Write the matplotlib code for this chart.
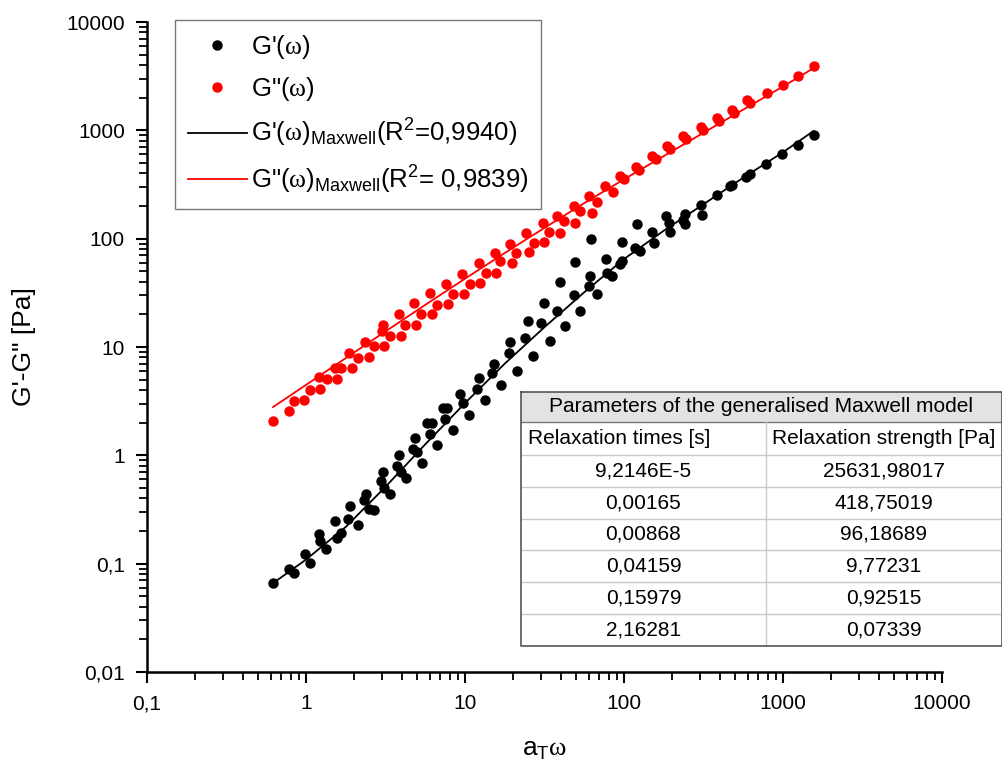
import matplotlib
matplotlib.use('Agg')
import matplotlib.pyplot as plt
from matplotlib.ticker import LogLocator, NullFormatter

# ═══ Fonts ════════════════════════════════════════════════════════════════
plt.rcParams['font.family'] = ['Liberation Sans', 'DejaVu Sans']
plt.rcParams['mathtext.fontset'] = 'custom'
plt.rcParams['mathtext.rm'] = 'Liberation Sans'
plt.rcParams['mathtext.it'] = 'Liberation Sans:italic'
plt.rcParams['mathtext.sf'] = 'Liberation Serif'

# ═══ Data ═════════════════════════════════════════════════════════════════

# G'(w) measured points
gp_x = [0.617, 0.785, 0.840, 0.98, 1.064, 1.202, 1.230, 1.336, 1.53, 1.56,
        1.668, 1.892, 1.846, 2.125, 2.39, 2.33, 2.50, 2.69, 3.07, 2.95,
        3.11, 3.38, 3.85, 3.72, 3.95, 4.25, 4.86, 4.74, 4.98, 5.35,
        5.75, 6.19, 6.04, 6.71, 7.32, 7.76, 7.50, 8.39, 9.33, 9.70,
        10.67, 12.17, 11.89, 13.40, 15.11, 14.77, 16.83, 19.27, 18.79, 21.23,
        24.89, 23.93, 26.77, 31.2, 30.05, 34.04, 39.4, 37.9, 42.7, 49.4,
        48.2, 53.1, 62.3, 60.8, 59.9, 67.7, 77.5, 78.3, 84.2, 97.3,
        97.3, 94.9, 120.9, 118, 126.8, 150.3, 153.8, 184.9, 191.3, 196,
        243.6, 243.6, 236.6, 309.5, 302.9, 385.6, 474.6, 461, 581, 616,
        777, 986, 1245, 1559]
gp_y = [0.0668, 0.0886, 0.0813, 0.1227, 0.1007, 0.189, 0.163, 0.1376, 0.246, 0.1738,
        0.193, 0.340, 0.2604, 0.227, 0.436, 0.384, 0.322, 0.3125, 0.707, 0.575,
        0.503, 0.443, 1.015, 0.797, 0.707, 0.617, 1.436, 1.136, 1.082, 0.856,
        1.975, 1.975, 1.563, 1.237, 2.716, 2.716, 2.149, 1.713, 3.715, 3.067,
        2.340, 5.14, 4.07, 3.22, 7.03, 5.80, 4.43, 11.22, 8.87, 6.00,
        17.38, 12.21, 8.26, 25.7, 16.8, 11.36, 39.8, 21.5, 15.6, 60.9,
        30.0, 21.5, 98.7, 45.3, 36.6, 30.7, 64.5, 47.9, 45.3, 92.6,
        61.8, 58.0, 135.8, 81.5, 76.5, 114.6, 90.7, 161, 138.7, 114.6,
        168, 135.8, 150, 164.4, 203.4, 251.8, 311.5, 304.8, 369, 393.5,
        486.6, 601.6, 728, 901]

# G''(w) measured points
gpp_x = [0.617, 0.785, 0.837, 0.976, 1.064, 1.230, 1.202, 1.350, 1.56, 1.53,
         1.668, 1.957, 1.866, 2.125, 2.49, 2.36, 2.67, 3.11, 3.07, 3.02,
         3.38, 3.93, 3.84, 4.22, 4.93, 4.81, 5.30, 6.19, 6.04, 6.65,
         7.87, 7.54, 8.39, 9.84, 9.56, 10.78, 12.34, 12.16, 13.60, 15.65,
         15.49, 16.67, 19.74, 19.07, 21.01, 25.1, 24.29, 27.0, 31.2, 30.8,
         33.6, 39.4, 37.9, 41.7, 49.4, 48.2, 53.1, 63.2, 60.5, 68.0,
         76.4, 85.8, 94.9, 100, 119.7, 125, 150.9, 158, 187.6, 196,
         236.6, 246, 302.9, 315, 381.9, 395, 474.6, 490, 598, 620,
         788, 994, 1236, 1559]
gpp_y = [2.074, 2.565, 3.20, 3.24, 4.01, 4.09, 5.33, 5.03, 5.11, 6.45,
         6.45, 6.36, 8.80, 7.98, 8.09, 11.12, 10.15, 10.22, 15.86, 14.05,
         12.64, 12.64, 20.04, 15.86, 15.86, 25.3, 20.04, 20.04, 31.3, 24.27,
         24.78, 37.9, 31.1, 31.1, 46.9, 37.9, 38.7, 59.3, 47.9, 47.9,
         73.3, 62.3, 60.2, 88.8, 74.4, 76.0, 113.8, 92.0, 93.2, 140.8,
         116.3, 113.8, 162, 145.7, 140.8, 200.4, 179, 171.6, 246.3, 216.8,
         304.8, 268.2, 376.9, 355, 456, 430, 576.4, 545, 713, 675,
         882, 835, 1068, 1010, 1294, 1225, 1534, 1450, 1898, 1800,
         2203, 2612, 3162, 3909]

# generalised Maxwell model curves
fit_x = [0.62, 1, 1.778, 3.162, 5.623, 10, 17.78, 31.62, 56.23,
         100, 177.8, 316.2, 562.3, 1000, 1549]
fit_gp = [0.066, 0.1090, 0.2182, 0.5121, 1.264, 3.034, 7.019, 15.25, 32.02,
          64.84, 118.4, 208.0, 365.4, 627.8, 981.3]
fit_gpp = [2.79, 4.466, 7.892, 13.94, 24.48, 42.70, 73.74, 125.9, 212.9,
           353.3, 578.2, 949.7, 1552.8, 2538.8, 3734.8]

# parameter table
tab_title = 'Parameters of the generalised Maxwell model'
tab_head = ['Relaxation times [s]', 'Relaxation strength [Pa]']
tau = ['9,2146E-5', '0,00165', '0,00868', '0,04159', '0,15979', '2,16281']
strength = ['25631,98017', '418,75019', '96,18689', '9,77231', '0,92515', '0,07339']

tick_vals = [0.01, 0.1, 1, 10, 100, 1000, 10000]
tick_txt = ['0,01', '0,1', '1', '10', '100', '1000', '10000']

# ═══ Figure ═══════════════════════════════════════════════════════════════

W, H = 1003, 769
fig = plt.figure(figsize=(W/100, H/100), dpi=100)
ax = fig.add_axes([147/W, (H-672)/H, 795/W, 650/H])

ax.plot(fit_x, fit_gp, color='black', lw=1.3,
        label=r"G'($\mathsf{\omega}$)$_{\mathrm{Maxwell}}$(R$^{\mathrm{2}}$=0,9940)")
ax.plot(fit_x, fit_gpp, color='#ff0000', lw=1.3,
        label=r'G"($\mathsf{\omega}$)$_{\mathrm{Maxwell}}$(R$^{\mathrm{2}}$= 0,9839)')
ax.plot(gp_x, gp_y, 'o', ls='none', ms=6.5, color='black',
        label=r"G'($\mathsf{\omega}$)")
ax.plot(gpp_x, gpp_y, 'o', ls='none', ms=6.5, color='#ff0000',
        label=r'G"($\mathsf{\omega}$)')

# ─── Axes ─────────────────────────────────────────────────────────────────
ax.set_xscale('log')
ax.set_yscale('log')
ax.set_xlim(0.1, 10000)
ax.set_ylim(0.01, 10000)

ax.set_xticks(tick_vals[1:], tick_txt[1:])
ax.set_yticks(tick_vals, tick_txt)
for a in (ax.xaxis, ax.yaxis):
  a.set_minor_locator(LogLocator(base=10, subs=range(2, 10), numticks=20))
  a.set_minor_formatter(NullFormatter())

ax.tick_params(which='major', direction='out', length=8, width=1.5,
               labelsize=15, pad=8)
ax.tick_params(which='minor', direction='out', length=5.5, width=1.3)

for s in ('top', 'right'):
  ax.spines[s].set_visible(False)
for s in ('left', 'bottom'):
  ax.spines[s].set_linewidth(1.8)

ax.set_xlabel(r'a$_{\mathrm{T}}$$\mathsf{\omega}$', fontsize=19, labelpad=18)
ax.set_ylabel('G\'-G" [Pa]', fontsize=19, labelpad=22)

# ─── Legend ───────────────────────────────────────────────────────────────
h, l = ax.get_legend_handles_labels()
order = [2, 3, 0, 1]
leg = ax.legend([h[i] for i in order], [l[i] for i in order],
                loc='upper left', bbox_to_anchor=(0.035, 1.003),
                borderaxespad=0, fontsize=18.5, frameon=True, fancybox=False,
                edgecolor='#555555', handlelength=2.3, handletextpad=0.15,
                borderpad=0.5, labelspacing=0.55, numpoints=1)
leg.get_frame().set_linewidth(1.0)

# ─── Parameter table ──────────────────────────────────────────────────────
tx = fig.add_axes([521/W, (H-646)/H, 481/W, 254/H])
tx.set_xlim(0, 481)
tx.set_ylim(254, 0)
tx.axis('off')

col = 245
row_top = [0, 30, 63]
row_h = 31.8
edges = [row_top[2] + i*row_h for i in range(len(tau) + 1)]

tx.fill_between([0, 481], 0, 30, color='#e3e3e3', lw=0)
for y in edges[:-1]:
  tx.plot([0, 481], [y, y], color='#c8c8c8', lw=1)
tx.plot([0, 481], [30, 30], color='#777777', lw=1)
tx.plot([col, col], [30, 254], color='#c8c8c8', lw=1)
tx.plot([0, 481, 481, 0, 0], [0, 0, 254, 254, 0], color='#555555', lw=1.2,
        clip_on=False)

tx.text(240, 15, tab_title, ha='center', va='center', fontsize=15)
tx.text(7, 46.5, tab_head[0], ha='left', va='center', fontsize=15)
tx.text(col + 6, 46.5, tab_head[1], ha='left', va='center', fontsize=15)
for i in range(len(tau)):
  yc = edges[i] + row_h/2
  tx.text(col/2, yc, tau[i], ha='center', va='center', fontsize=15)
  tx.text((col + 481)/2, yc, strength[i], ha='center', va='center', fontsize=15)

fig.savefig('out.png', dpi=100)
